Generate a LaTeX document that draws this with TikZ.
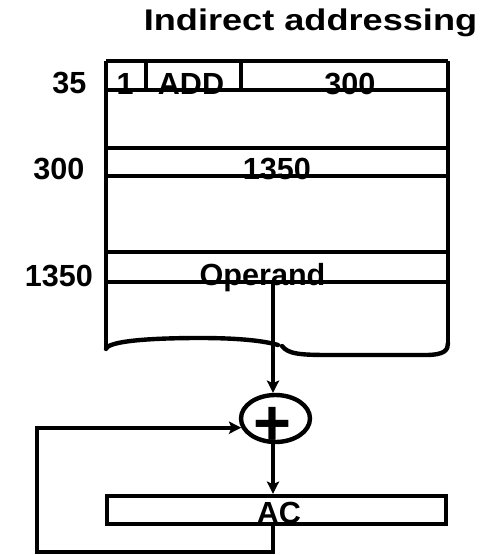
\documentclass[tikz,border=0pt]{standalone}
\usepackage{fontspec}
\setmainfont{Liberation Sans}
\usepackage{graphicx}
\usetikzlibrary{positioning,arrows.meta,shapes.geometric,calc}
\tikzset{
  wire/.style={line width=2.5pt},
  flow/.style={-{Stealth[length=7pt,width=7pt,inset=1.5pt]},line width=2.2pt},
  lbl/.style={font=\fontsize{17.4}{19}\selectfont\bfseries,inner sep=0pt,anchor=base},
  adder/.style={ellipse,draw,line width=2.5pt,minimum width=1.38cm,minimum height=0.94cm,inner sep=0pt},
  acbox/.style={rectangle,draw,line width=2.5pt,minimum width=6.78cm,minimum height=0.56cm,inner sep=0pt},
}

\begin{document}
\begin{tikzpicture}[x=0.02cm,y=-0.02cm]
  \useasboundingbox (0,0) rectangle (491,555);
  % title
  \node[lbl,font=\fontsize{17}{19}\selectfont\bfseries] (title) at (310.5,30.5)
    {\scalebox{1.21}[1]{Indirect addressing}};
  % addresses
  \node[lbl] (a35) at (69.5,93) {35};
  \node[lbl] (a300) at (59,179.5) {300};
  \node[lbl] (a1350) at (59,286.5) {1350};
  % memory words
  \node[lbl] (ibit) at (125,94) {1};
  \node[lbl] (opc) at (191,94) {ADD};
  \node[lbl] (adr) at (350,94) {300};
  \node[lbl] (ptr) at (277,179.5) {1350};
  \node[lbl] (opd) at (262.5,285.5) {Operand};
  \draw[wire] (106,61) -- (448,61);
  \foreach \y in {90,148,176,252,282}
    \draw[wire] (106,\y) -- (448,\y);
  \draw[wire] (146,61) -- (146,90);
  \draw[wire] (241,61) -- (241,90);
  \draw[wire] (106,61) -- (106,349);
  \draw[wire] (448,61) -- (448,343);
  % torn-off bottom of memory
  \draw[wire,line cap=round] (106,349) .. controls (108,341) and (150,338) .. (200,338)
    .. controls (240,338) and (265,341) .. (278,345);
  \draw[wire,line cap=round] (282,346) .. controls (288,354) and (300,355) .. (330,355)
    -- (425,355) .. controls (445,355) and (448,350) .. (448,343);
  % adder and accumulator
  \coordinate (tap) at (273,282);
  \coordinate (fb) at (37,552);
  \node[adder] (sum) at (275.5,418.5) {};
  \node[font=\fontsize{37}{40}\selectfont\bfseries,inner sep=0pt] (plus) at (272.5,426) {+};
  \node[acbox] (ac) at (276.5,510) {};
  \node[lbl] (actxt) at (279,523) {AC};
  \draw[flow] (tap) -- (tap |- sum.north);
  \draw[flow] (tap |- sum.south) -- (tap |- ac.north);
  \draw[flow] (tap |- ac.south) |- (fb) |- (sum.195);
\end{tikzpicture}
\end{document}
